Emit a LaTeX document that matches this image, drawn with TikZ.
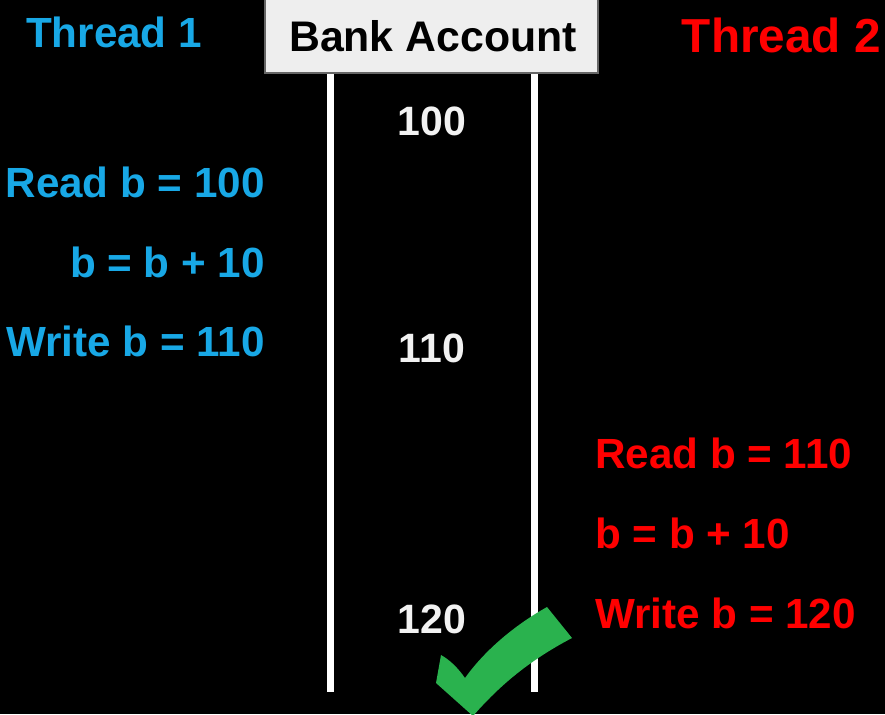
\documentclass[tikz,border=0pt]{standalone}
\usepackage{fontspec}
\setmainfont{Liberation Sans}
\begin{document}
\definecolor{tblue}{HTML}{18A8E6}
\definecolor{tred}{HTML}{FF0000}
\definecolor{tgreen}{HTML}{2AB24E}
\definecolor{boxfill}{HTML}{EEEEEE}
\definecolor{boxline}{HTML}{666666}
\definecolor{numtxt}{HTML}{F2F2F2}
\begin{tikzpicture}[x=1pt,y=-1pt,
  lbl/.style={inner sep=0pt,font=\fontsize{42.2}{50}\selectfont\bfseries},
  bluelbl/.style={lbl,text=tblue,anchor=base east},
  redlbl/.style={lbl,text=tred,anchor=base west},
  numlbl/.style={lbl,text=numtxt,anchor=base,font=\fontsize{41}{48}\selectfont\bfseries},
  timeline/.style={draw=white,line width=7pt},
  acctbox/.style={draw=boxline,line width=2pt,fill=boxfill,minimum width=333pt,
    minimum height=74pt,inner sep=0pt}]
  % background
  \fill[black] (0,0) rectangle (885,714);
  \useasboundingbox (0,0) rectangle (885,714);

  % timelines below the account box
  \coordinate (ltop) at (330,73);
  \coordinate (lbot) at (330,692);
  \coordinate (rtop) at (534,73);
  \coordinate (rbot) at (534,692);
  \draw[timeline] (ltop) -- (lbot);
  \draw[timeline] (rtop) -- (rbot);

  % account header
  \node[acctbox] (acct) at (431.5,36) {};
  \node[lbl,text=black,anchor=base,font=\fontsize{42.8}{51}\selectfont\bfseries] (accttxt) at (433,52) {Bank Account};

  % thread headers
  \node[lbl,text=tblue,anchor=base] (t1) at (114,48) {Thread 1};
  \node[lbl,text=tred,anchor=base east,font=\fontsize{47.7}{56}\selectfont\bfseries] (t2) at (881,53) {Thread 2};

  % thread 1 steps
  \node[bluelbl] (r1) at (265,197) {Read b = 100};
  \node[bluelbl] (a1) at (265,277) {b = b + 10};
  \node[bluelbl] (w1) at (265,356) {Write b = 110};

  % thread 2 steps
  \node[redlbl] (r2) at (595,468) {Read b = 110};
  \node[redlbl] (a2) at (595,548) {b = b + 10};
  \node[redlbl] (w2) at (595,628) {Write b = 120};

  % account values
  \node[numlbl] (v1) at (432,136) {100};
  \node[numlbl] (v2) at (432,362) {110};
  \node[numlbl] (v3) at (432,633) {120};

  % check mark
  \fill[tgreen] (441,655) -- (436,683) -- (473,716)
    .. controls (500,685) and (530,660) .. (572,638)
    -- (547,607)
    .. controls (515,625) and (485,650) .. (465,678)
    .. controls (458,668) and (450,660) .. (441,655) -- cycle;
\end{tikzpicture}
\end{document}
